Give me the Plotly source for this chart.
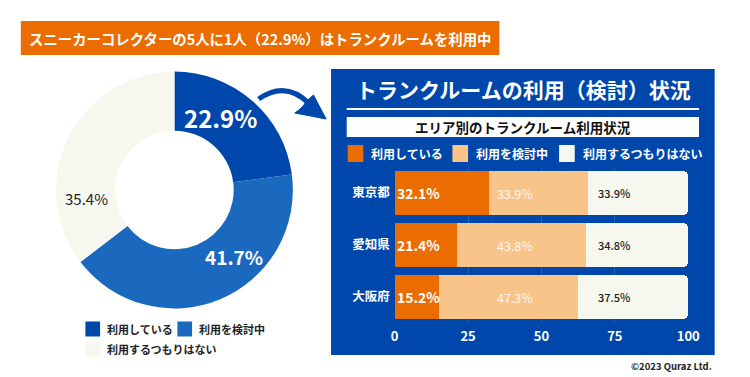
import plotly.graph_objects as go

# ---------------- data ----------------
title_text = "スニーカーコレクターの5人に1人（22.9%）はトランクルームを利用中"
pie_labels = ["利用している", "利用を検討中", "利用するつもりはない"]
pie_values = [22.9, 41.7, 35.4]

panel_title = "トランクルームの利用（検討）状況"
panel_subtitle = "エリア別のトランクルーム利用状況"
regions = ["東京都", "愛知県", "大阪府"]
series_names = ["利用している", "利用を検討中", "利用するつもりはない"]
using = [32.1, 21.4, 15.2]
considering = [33.9, 43.8, 47.3]
not_using = [33.9, 34.8, 37.5]
x_ticks = [0, 25, 50, 75, 100]
copyright_text = "©2023 Quraz Ltd."

# ---------------- style ----------------
W, H = 750, 377
OFF = 8  # page body margin compensation; positions below are window pixels
FONT = "Noto Sans CJK JP"
ORANGE = "#EB6C00"
PEACH = "#F9C48A"
OFFWHITE = "#F6F7EF"
DARKBLUE = "#0047AB"
MIDBLUE = "#1B69BF"
PANEL = "#0047AB"
pie_colors = [DARKBLUE, MIDBLUE, OFFWHITE]
bar_colors = [ORANGE, PEACH, OFFWHITE]


def px(x):
    return (x - OFF) / W


def py(y):
    return 1 - (y - OFF) / H


fig = go.Figure()

# donut
fig.add_trace(go.Pie(
    labels=pie_labels, values=pie_values, hole=0.5, sort=False,
    direction="clockwise", rotation=0,
    marker=dict(colors=pie_colors, line=dict(width=0)),
    textinfo="none", showlegend=False,
    domain=dict(x=[px(53), px(295)], y=[py(311), py(69)]),
))

# stacked bars
for name, vals, col in zip(series_names, [using, considering, not_using], bar_colors):
    fig.add_trace(go.Bar(
        y=regions, x=vals, name=name, orientation="h",
        marker=dict(color=col, line=dict(width=0)),
        showlegend=False, hoverinfo="x+y",
    ))

shapes = []
annotations = []

# title bar
shapes.append(dict(type="rect", xref="paper", yref="paper", x0=px(17), x1=px(506),
                   y0=py(55), y1=py(21), fillcolor=ORANGE, line=dict(width=0), layer="below"))
annotations.append(dict(xref="paper", yref="paper", x=px(262), y=py(38), text=title_text,
                        showarrow=False, xanchor="center", yanchor="middle",
                        font=dict(family=FONT, size=14.4, color="white", weight=700)))

# panel
shapes.append(dict(type="rect", xref="paper", yref="paper", x0=px(334), x1=px(726),
                   y0=py(355), y1=py(69), fillcolor=PANEL, line=dict(width=0), layer="below"))
annotations.append(dict(xref="paper", yref="paper", x=px(531), y=py(89), text=panel_title,
                        showarrow=False, xanchor="center", yanchor="middle",
                        font=dict(family=FONT, size=21, color="white", weight=700)))
shapes.append(dict(type="line", xref="paper", yref="paper", x0=px(350), x1=px(710),
                   y0=py(109), y1=py(109), line=dict(color="white", width=2), layer="below"))
shapes.append(dict(type="rect", xref="paper", yref="paper", x0=px(350), x1=px(710),
                   y0=py(137), y1=py(117), fillcolor="white", line=dict(width=0), layer="below"))
annotations.append(dict(xref="paper", yref="paper", x=px(530), y=py(127), text=panel_subtitle,
                        showarrow=False, xanchor="center", yanchor="middle",
                        font=dict(family=FONT, size=13.5, color="#111111", weight=700)))

# panel legend
leg_sq_x = [351, 458, 567]
for name, col, sx in zip(series_names, bar_colors, leg_sq_x):
    shapes.append(dict(type="rect", xref="paper", yref="paper", x0=px(sx), x1=px(sx + 16),
                       y0=py(162), y1=py(145), fillcolor=col, line=dict(width=0)))
    annotations.append(dict(xref="paper", yref="paper", x=px(sx + 22), y=py(153.5), text=name,
                            showarrow=False, xanchor="left", yanchor="middle",
                            font=dict(family=FONT, size=12, color="white", weight=700)))

# left legend
left_leg = [(83, 329), (177, 329), (83, 349)]
for name, col, (sx, cy) in zip(pie_labels, pie_colors, left_leg):
    shapes.append(dict(type="rect", xref="paper", yref="paper", x0=px(sx), x1=px(sx + 15),
                       y0=py(cy + 7.5), y1=py(cy - 7.5), fillcolor=col, line=dict(width=0)))
    annotations.append(dict(xref="paper", yref="paper", x=px(sx + 20), y=py(cy), text=name,
                            showarrow=False, xanchor="left", yanchor="middle",
                            font=dict(family=FONT, size=11, color="#222222", weight=700)))

# donut labels
pie_label_pos = [(221, 117), (235, 257), (84, 198)]
pie_label_font = [dict(size=24, color="white", weight=700),
                  dict(size=19, color="white", weight=700),
                  dict(size=15, color="#222222", weight=400)]
for v, (lx, ly), f in zip(pie_values, pie_label_pos, pie_label_font):
    annotations.append(dict(xref="paper", yref="paper", x=px(lx), y=py(ly), text=f"{v}%",
                            showarrow=False, xanchor="center", yanchor="middle",
                            font=dict(family=FONT, **f)))

# arrow (curved)
shapes.append(dict(type="path", xref="paper", yref="paper",
                   path=f"M {px(260)},{py(99)} Q {px(288)},{py(80)} {px(312)},{py(104)}",
                   line=dict(color=DARKBLUE, width=5)))
shapes.append(dict(type="path", xref="paper", yref="paper",
                   path=(f"M {px(316)},{py(95)} L {px(329)},{py(119)} L {px(297)},{py(113)} "
                         f"Q {px(306)},{py(107)} {px(308)},{py(102)} Z"),
                   fillcolor=DARKBLUE, line=dict(color=DARKBLUE, width=1)))

# bar value labels
x_pos_mid = 41
x_pos_right = 74.7
for r, a, b, c in zip(regions, using, considering, not_using):
    annotations.append(dict(xref="x", yref="y", x=0, y=r, text=f"{a}%", showarrow=False,
                            xanchor="left", yanchor="middle", xshift=0,
                            font=dict(family=FONT, size=14, color="white", weight=700)))
    annotations.append(dict(xref="x", yref="y", x=x_pos_mid, y=r, text=f"{b}%", showarrow=False,
                            xanchor="center", yanchor="middle",
                            font=dict(family=FONT, size=12.5, color="#FFF6EC", weight=400)))
    annotations.append(dict(xref="x", yref="y", x=x_pos_right, y=r, text=f"{c}%", showarrow=False,
                            xanchor="center", yanchor="middle",
                            font=dict(family=FONT, size=11, color="#222222", weight=500)))

# copyright
annotations.append(dict(xref="paper", yref="paper", x=px(725), y=py(366), text=copyright_text,
                        showarrow=False, xanchor="right", yanchor="middle",
                        font=dict(family=FONT, size=9.5, color="#222222", weight=700)))

fig.update_layout(
    width=W, height=H, margin=dict(l=0, r=0, t=0, b=0),
    paper_bgcolor="white", plot_bgcolor="rgba(0,0,0,0)",
    barmode="stack", bargap=1 - 44 / 52, barcornerradius=5,
    font=dict(family=FONT),
    shapes=shapes, annotations=annotations,
    xaxis=dict(domain=[px(399), px(699)], range=[0, 100], tickvals=x_ticks,
               showgrid=True, gridcolor="rgba(255,255,255,0.14)", gridwidth=1,
               zeroline=False, showline=False, ticks="", ticklabelstandoff=4,
               tickfont=dict(family=FONT, size=13, color="white", weight=700), fixedrange=True),
    yaxis=dict(domain=[py(323), py(167)], categoryorder="array", categoryarray=regions,
               autorange="reversed", showgrid=False, zeroline=False, showline=False, ticks="",
               ticklabelstandoff=4,
               tickfont=dict(family=FONT, size=12.5, color="white", weight=700), fixedrange=True),
    hovermode=False,
)

fig.write_html("out.html")
